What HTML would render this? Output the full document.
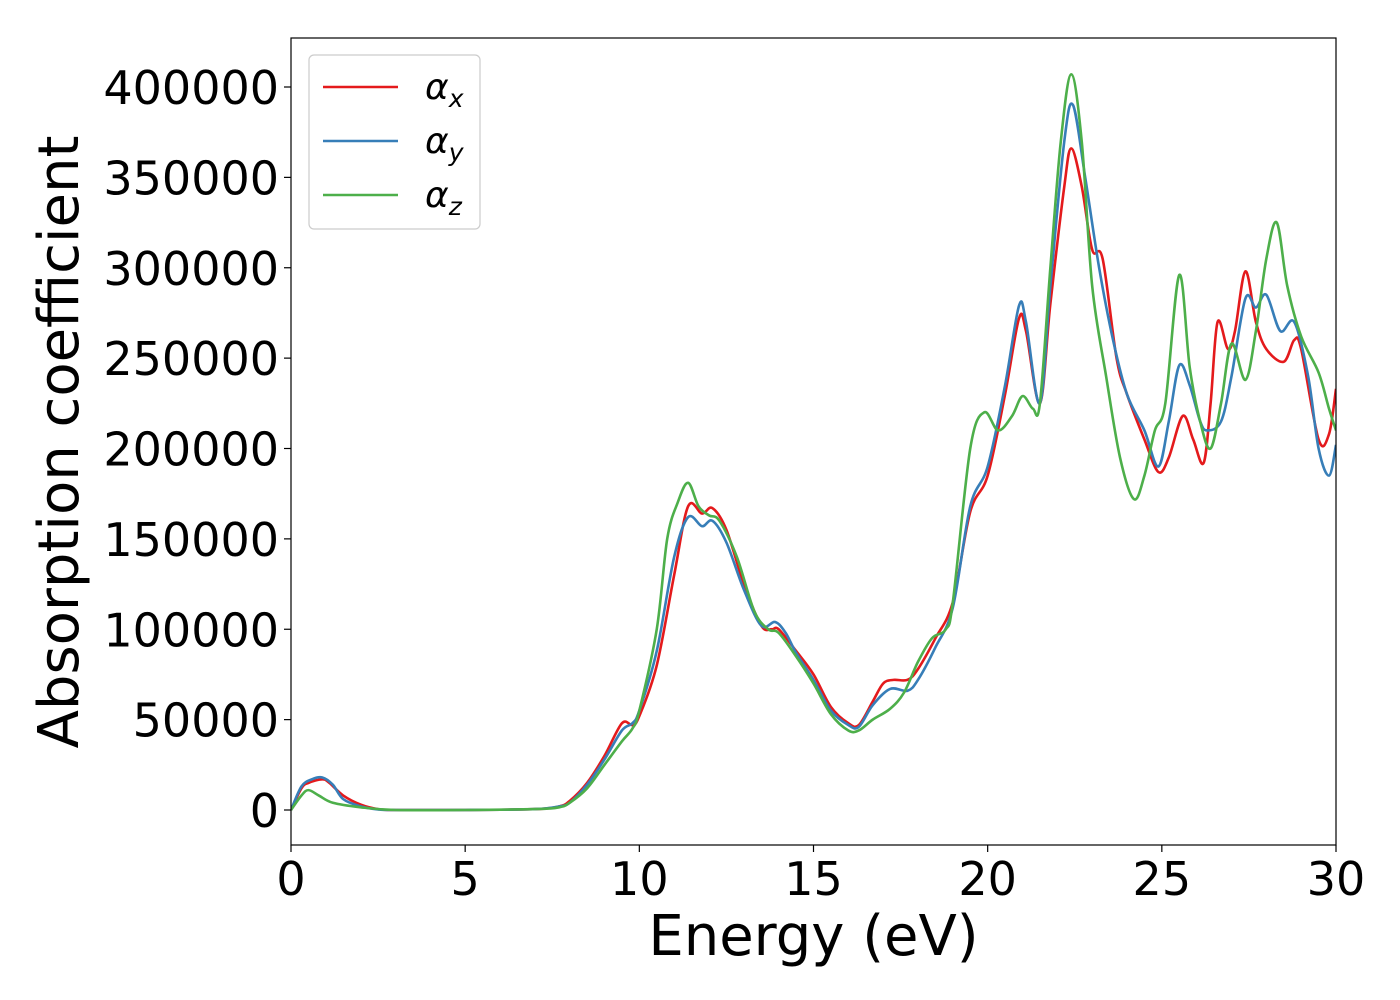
<!DOCTYPE html>
<html><head><meta charset="utf-8"><style>
html,body{margin:0;padding:0;background:#fff;}
svg{display:block;font-family:"DejaVu Sans","Liberation Sans",sans-serif;}
</style></head><body>
<svg id="chart" width="1400" height="1000" viewBox="0 0 1400 1000" xmlns="http://www.w3.org/2000/svg"></svg>
<script>
const xTicks=[0,5,10,15,20,25,30];
const yTicks=[0,50000,100000,150000,200000,250000,300000,350000,400000];
const xE=[0,0.3,0.5,0.9,1.1,1.5,2,2.5,3,5,7,7.7,8,8.5,9,9.5,9.8,10,10.5,11,11.4,11.8,12.1,12.5,13,13.5,13.8,14,14.5,15,15.5,16,16.3,16.7,17,17.3,17.7,18,18.5,19,19.5,20,20.5,20.9,21.1,21.5,21.8,22.2,22.4,22.7,23,23.3,23.7,24,24.5,24.9,25.2,25.6,25.9,26.2,26.4,26.6,26.9,27.1,27.4,27.7,28,28.5,28.8,29,29.5,29.8,30];
const xV=[0,12000,15000,17000,15000,8000,3000,500,0,0,500,2000,5000,15000,30000,48000,47000,52000,80000,130000,168000,164000,167000,155000,125000,102000,100000,100000,88000,75000,57000,48000,47000,60000,70000,72000,72000,78000,95000,115000,165000,185000,230000,272000,265000,225000,280000,345000,366000,345000,310000,305000,250000,230000,205000,187000,195000,218000,205000,192000,225000,270000,255000,265000,298000,270000,255000,248000,260000,255000,205000,208000,233000];
const yE=[0,0.3,0.6,0.9,1.2,1.5,2,2.5,3,5,7,7.7,8,8.5,9,9.5,9.8,10,10.5,11,11.4,11.8,12.1,12.5,13,13.5,13.9,14.2,14.5,15,15.5,16,16.3,16.7,17.2,17.7,18,18.5,19,19.5,20,20.5,20.9,21.1,21.5,21.8,22.2,22.45,22.8,23.2,23.6,24,24.5,24.9,25.2,25.5,25.8,26.1,26.3,26.7,27,27.4,27.7,28,28.4,28.8,29.2,29.5,29.8,30];
const yV=[0,13000,17000,18000,14000,6000,2000,300,0,0,500,2000,4000,14000,28000,44000,48000,55000,88000,140000,162000,157000,160000,148000,122000,102000,104000,98000,87000,72000,55000,47000,46000,58000,67000,66000,72000,90000,112000,168000,190000,235000,279000,270000,225000,290000,370000,390000,350000,300000,260000,230000,210000,190000,215000,246000,235000,215000,210000,215000,240000,283000,278000,285000,265000,270000,240000,200000,185000,202000];
const zE=[0,0.3,0.5,0.8,1.2,2,3,5,7,7.7,8,8.5,9,9.5,9.8,10,10.5,10.8,11.1,11.4,11.7,12,12.3,12.8,13.3,13.7,14,14.5,15,15.5,16,16.3,16.7,17.2,17.6,18,18.4,18.8,19,19.5,19.9,20.3,20.7,21,21.3,21.5,21.8,22.1,22.4,22.7,23,23.4,23.8,24.2,24.5,24.8,25.1,25.5,25.8,26.1,26.4,26.7,27,27.4,27.7,28,28.3,28.6,29,29.5,29.8,30];
const zV=[0,8000,11000,8000,4000,1500,0,0,500,1500,4000,12000,25000,38000,45000,55000,100000,150000,170000,181000,168000,163000,160000,140000,110000,100000,98000,85000,70000,53000,44000,44000,50000,56000,65000,82000,95000,100000,115000,200000,220000,210000,218000,229000,222000,225000,300000,370000,407000,370000,290000,240000,195000,172000,185000,210000,225000,296000,245000,215000,200000,225000,258000,238000,265000,305000,325000,290000,262000,242000,222000,210000];

const L=291,R=1336,T=38,B=845;
const X=v=>L+(v-0)/(30-0)*(R-L);
const Y=v=>810-v*0.0018075;
const svg=document.getElementById('chart');
const NS='http://www.w3.org/2000/svg';
function mk(t,a,p){const e=document.createElementNS(NS,t);for(const k in a)e.setAttribute(k,a[k]);(p||svg).appendChild(e);return e;}

const defs=mk('clipPath',{id:'clip'});mk('rect',{x:L,y:T,width:R-L,height:B-T},defs);

function path(E,V){const p=E.map((e,i)=>[X(e),Y(V[i])]);let d='M'+p[0][0]+','+p[0][1];
for(let i=0;i<p.length-1;i++){const p0=p[Math.max(0,i-1)],p1=p[i],p2=p[i+1],p3=p[Math.min(p.length-1,i+2)];
const c1=[p1[0]+(p2[0]-p0[0])/6,p1[1]+(p2[1]-p0[1])/6],c2=[p2[0]-(p3[0]-p1[0])/6,p2[1]-(p3[1]-p1[1])/6];
d+=`C${c1[0].toFixed(2)},${c1[1].toFixed(2)} ${c2[0].toFixed(2)},${c2[1].toFixed(2)} ${p2[0].toFixed(2)},${p2[1].toFixed(2)}`;}return d;}

const series=[[xE,xV,'#e41a1c','series-alpha-x'],[yE,yV,'#377eb8','series-alpha-y'],[zE,zV,'#4daf4a','series-alpha-z']];
series.forEach(s=>{const e=mk('path',{d:path(s[0],s[1]),fill:'none',stroke:s[2],'stroke-width':2.6,'clip-path':'url(#clip)'});

});

const frame=mk('rect',{x:L,y:T,width:R-L,height:B-T,fill:'none',stroke:'#000','stroke-width':1.2});



xTicks.forEach(t=>{mk('line',{x1:X(t),x2:X(t),y1:B,y2:B+7,stroke:'#000','stroke-width':1.2});
const e=mk('text',{x:X(t),y:B+50,'text-anchor':'middle','font-size':46});e.textContent=t;

});
yTicks.forEach(t=>{mk('line',{x1:L-7,x2:L,y1:Y(t),y2:Y(t),stroke:'#000','stroke-width':1.2});
const e=mk('text',{x:L-12,y:Y(t)+17,'text-anchor':'end','font-size':46});e.textContent=t;

});

const xl=mk('text',{x:(L+R)/2,y:955,'text-anchor':'middle','font-size':56});xl.textContent='Energy (eV)';


const yl=mk('text',{x:0,y:0,'text-anchor':'middle','font-size':56,transform:'translate(78,442) rotate(-90)'});yl.textContent='Absorption coefficient';



const lg=mk('g',{});


mk('rect',{x:309,y:55,width:171,height:174,rx:5,fill:'#fff',stroke:'#ccc','stroke-width':1.2},lg);
const labs=['x','y','z'];
series.forEach((s,i)=>{const yy=87+i*54;
mk('line',{x1:323,x2:398,y1:yy,y2:yy,stroke:s[2],'stroke-width':2.6},lg);
const t=mk('text',{x:425,y:yy+12,'font-size':36,'font-style':'italic'},lg);
t.innerHTML='α<tspan font-size="25" dy="8">'+labs[i]+'</tspan>';

});
</script>
</body></html>
